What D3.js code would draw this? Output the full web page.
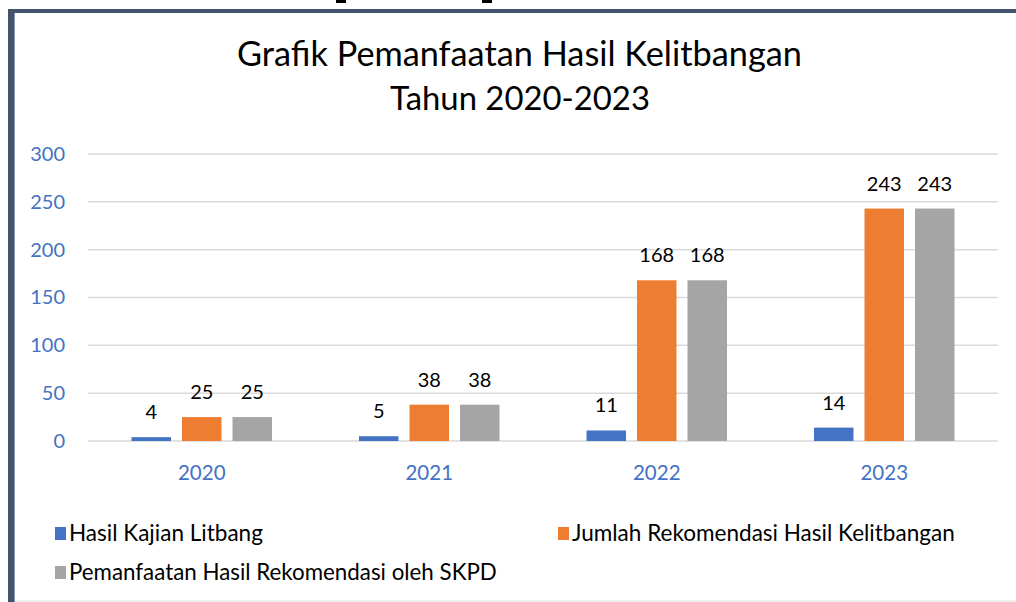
<!DOCTYPE html>
<html><head><meta charset="utf-8">
<script src="https://cdn.jsdelivr.net/npm/d3@7"></script>
<style>body{margin:0;background:#fff}svg{display:block}</style>
</head><body>
<svg id="c" width="1016" height="602"></svg>
<script>
const categories = ["2020","2021","2022","2023"];
const seriesNames = ["Hasil Kajian Litbang","Jumlah Rekomendasi Hasil Kelitbangan","Pemanfaatan Hasil Rekomendasi oleh SKPD"];
const hasilKajian = [4,5,11,14];
const jumlahRekomendasi = [25,38,168,243];
const pemanfaatan = [25,38,168,243];
const yTicks = [0,50,100,150,200,250,300];
const titleLines = ["Grafik Pemanfaatan Hasil Kelitbangan","Tahun 2020-2023"];
const colors = ["#4472C4","#ED7D31","#A5A5A5"];
const seriesValues = [hasilKajian, jumlahRekomendasi, pemanfaatan];

(function(){
const FONT = "Lato, 'Open Sans', sans-serif";
const svg = d3.select("#c");

// frame
svg.append("rect").attr("x",8).attr("y",9).attr("width",1008).attr("height",4).attr("fill","#44546A");
svg.append("rect").attr("x",8).attr("y",9).attr("width",6).attr("height",593).attr("fill","#44546A");
svg.append("rect").attr("x",14).attr("y",13).attr("width",1).attr("height",589).attr("fill","#8496B0");
svg.append("rect").attr("x",15).attr("y",600).attr("width",1001).attr("height",2).attr("fill","#eeeeee");
svg.append("rect").attr("x",336).attr("y",0).attr("width",10).attr("height",3).attr("fill","#000");
svg.append("rect").attr("x",482).attr("y",0).attr("width",10).attr("height",3).attr("fill","#000");

function fitText(sel, w, base) {
  const cur = sel.node().getComputedTextLength();
  sel.attr("font-size", base * w / cur);
}

// title
const t1 = svg.append("text").attr("x",519.5).attr("y",66).attr("text-anchor","middle")
  .attr("font-family",FONT).attr("font-size",30).attr("fill","#000").text(titleLines[0]);
fitText(t1, 565, 30);
const t2 = svg.append("text").attr("x",520).attr("y",110).attr("text-anchor","middle")
  .attr("font-family",FONT).attr("font-size",30).attr("fill","#000").text(titleLines[1]);
fitText(t2, 260, 30);

const pLeft = 88, pRight = 998, pTop = 154, pBottom = 441;
const x0 = d3.scaleBand().domain(categories).range([pLeft,pRight]).padding(0);
const x1 = d3.scaleBand().domain(d3.range(3)).range([0,140.5]).paddingInner(0.218).paddingOuter(0);
const y = d3.scaleLinear().domain([0,300]).range([pBottom,pTop]);

// grid
svg.append("g").selectAll("line").data(yTicks).join("line")
  .attr("x1",pLeft).attr("x2",pRight).attr("y1",d=>y(d)).attr("y2",d=>y(d))
  .attr("stroke","#d9d9d9").attr("stroke-width",1.5);

// y axis labels
const yAxis = d3.axisLeft(y).tickValues(yTicks).tickSize(0).tickPadding(0);
const ya = svg.append("g").attr("transform","translate(65,0)").call(yAxis);
ya.select(".domain").remove();
ya.selectAll("text").attr("font-family",FONT).attr("font-size",20).attr("fill","#4472C4");

// x axis labels
const xAxis = d3.axisBottom(x0).tickSize(0).tickPadding(0);
const xa = svg.append("g").attr("transform","translate(0,480)").call(xAxis);
xa.select(".domain").remove();
xa.selectAll("text").attr("dy",0).attr("font-family",FONT).attr("font-size",20.5).attr("fill","#4472C4");

// bars
const data = [];
categories.forEach((c,i)=>seriesValues.forEach((s,j)=>data.push({c, j, v:s[i]})));
const off = (x0.bandwidth()-140.5)/2;
svg.append("g").selectAll("rect").data(data).join("rect")
  .attr("x",d=>x0(d.c)+off+x1(d.j)).attr("width",x1.bandwidth())
  .attr("y",d=>y(d.v)).attr("height",d=>y(0)-y(d.v))
  .attr("fill",d=>colors[d.j]);
svg.append("g").selectAll("text").data(data).join("text")
  .attr("x",d=>x0(d.c)+off+x1(d.j)+x1.bandwidth()/2).attr("y",d=>y(d.v)-18)
  .attr("text-anchor","middle").attr("font-family",FONT).attr("font-size",20).attr("fill","#000")
  .text(d=>d.v);

// legend
const legPos = [[55,534],[558,534],[55,573]];
const legW = [194,383,428];
seriesNames.forEach((n,i)=>{
  const [lx,ly] = legPos[i];
  svg.append("rect").attr("x",lx).attr("y",ly-7).attr("width",11).attr("height",13).attr("fill",colors[i]);
  const tt = svg.append("text").attr("x",lx+14).attr("y",ly+7).attr("font-family",FONT)
    .attr("font-size",18).attr("fill","#000").text(n);
  fitText(tt, legW[i], 18);
});
})();
</script>
</body></html>
